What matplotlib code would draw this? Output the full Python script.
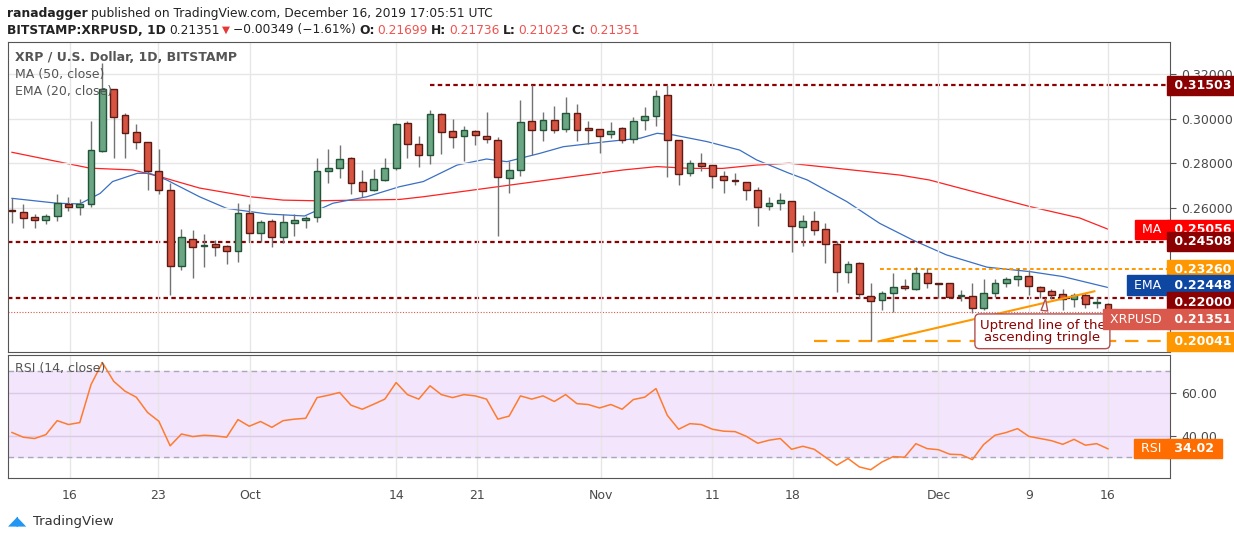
import numpy as np
import matplotlib
matplotlib.use("Agg")
from matplotlib import pyplot as plt

# daily candles, Sep -> Dec 16 2019
opens = [0.2589, 0.2585, 0.2559, 0.2546, 0.2565, 0.2620, 0.2607, 0.2619, 0.2856, 0.3132,
         0.3016, 0.2939, 0.2895, 0.2765, 0.2680, 0.2343, 0.2464, 0.2432, 0.2440, 0.2431,
         0.2410, 0.2577, 0.2488, 0.2541, 0.2473, 0.2532, 0.2546, 0.2562, 0.2766, 0.2778,
         0.2823, 0.2716, 0.2682, 0.2726, 0.2778, 0.2980, 0.2886, 0.2837, 0.3020, 0.2944,
         0.2922, 0.2944, 0.2922, 0.2904, 0.2734, 0.2769, 0.2989, 0.2948, 0.2993, 0.2953,
         0.3024, 0.2957, 0.2953, 0.2930, 0.2957, 0.2908, 0.2996, 0.3011, 0.3105, 0.2904,
         0.2756, 0.2801, 0.2792, 0.2743, 0.2726, 0.2716, 0.2680, 0.2608, 0.2622, 0.2634,
         0.2517, 0.2541, 0.2505, 0.2438, 0.2313, 0.2353, 0.2209, 0.2189, 0.2219, 0.2252,
         0.2238, 0.2309, 0.2267, 0.2264, 0.2207, 0.2207, 0.2152, 0.2222, 0.2264, 0.2282,
         0.2298, 0.2249, 0.2231, 0.2215, 0.2194, 0.2210, 0.2174, 0.2170]
highs = [0.2644, 0.2619, 0.2574, 0.2574, 0.2664, 0.2650, 0.2640, 0.2990, 0.3250, 0.3135,
         0.3024, 0.2977, 0.2896, 0.2863, 0.2711, 0.2506, 0.2503, 0.2485, 0.2458, 0.2435,
         0.2622, 0.2619, 0.2547, 0.2550, 0.2574, 0.2574, 0.2565, 0.2823, 0.2865, 0.2883,
         0.2828, 0.2771, 0.2774, 0.2823, 0.2983, 0.2992, 0.2923, 0.3039, 0.3024, 0.2998,
         0.2968, 0.2950, 0.3032, 0.2917, 0.2811, 0.3084, 0.3151, 0.3030, 0.3057, 0.3096,
         0.3066, 0.2990, 0.2953, 0.2986, 0.2962, 0.3007, 0.3054, 0.3129, 0.3151, 0.2905,
         0.2816, 0.2846, 0.2792, 0.2766, 0.2756, 0.2716, 0.2693, 0.2652, 0.2670, 0.2634,
         0.2569, 0.2589, 0.2535, 0.2455, 0.2365, 0.2359, 0.2264, 0.2231, 0.2309, 0.2282,
         0.2335, 0.2334, 0.2267, 0.2267, 0.2234, 0.2264, 0.2282, 0.2282, 0.2294, 0.2331,
         0.2323, 0.2252, 0.2237, 0.2237, 0.2219, 0.2219, 0.2204, 0.2174]
lows = [0.2535, 0.2510, 0.2510, 0.2528, 0.2544, 0.2589, 0.2570, 0.2604, 0.2853, 0.2823,
        0.2823, 0.2863, 0.2682, 0.2662, 0.2212, 0.2324, 0.2286, 0.2336, 0.2386, 0.2351,
        0.2361, 0.2450, 0.2450, 0.2425, 0.2446, 0.2477, 0.2513, 0.2540, 0.2714, 0.2737,
        0.2662, 0.2652, 0.2679, 0.2723, 0.2771, 0.2826, 0.2786, 0.2798, 0.2843, 0.2871,
        0.2813, 0.2883, 0.2890, 0.2477, 0.2670, 0.2744, 0.2838, 0.2902, 0.2938, 0.2942,
        0.2902, 0.2886, 0.2848, 0.2916, 0.2890, 0.2893, 0.2950, 0.2969, 0.2741, 0.2704,
        0.2744, 0.2768, 0.2690, 0.2670, 0.2702, 0.2637, 0.2522, 0.2592, 0.2592, 0.2405,
        0.2432, 0.2480, 0.2356, 0.2227, 0.2267, 0.2197, 0.2004, 0.2145, 0.2137, 0.2234,
        0.2234, 0.2244, 0.2197, 0.2197, 0.2186, 0.2130, 0.2145, 0.2201, 0.2249, 0.2252,
        0.2212, 0.2197, 0.2194, 0.2145, 0.2156, 0.2155, 0.2152, 0.2102]
closes = [0.2586, 0.2555, 0.2546, 0.2565, 0.2625, 0.2607, 0.2619, 0.2860, 0.3132, 0.3010,
          0.2935, 0.2895, 0.2765, 0.2680, 0.2343, 0.2470, 0.2428, 0.2434, 0.2428, 0.2410,
          0.2577, 0.2488, 0.2537, 0.2473, 0.2537, 0.2546, 0.2555, 0.2766, 0.2778, 0.2819,
          0.2711, 0.2679, 0.2729, 0.2778, 0.2975, 0.2886, 0.2837, 0.3020, 0.2939, 0.2917,
          0.2948, 0.2926, 0.2908, 0.2738, 0.2769, 0.2984, 0.2948, 0.2993, 0.2948, 0.3024,
          0.2948, 0.2948, 0.2922, 0.2944, 0.2904, 0.2989, 0.3011, 0.3100, 0.2904, 0.2752,
          0.2801, 0.2790, 0.2743, 0.2725, 0.2720, 0.2680, 0.2604, 0.2622, 0.2635, 0.2522,
          0.2541, 0.2502, 0.2438, 0.2313, 0.2349, 0.2215, 0.2183, 0.2219, 0.2249, 0.2241,
          0.2311, 0.2264, 0.2259, 0.2201, 0.2209, 0.2152, 0.2222, 0.2264, 0.2282, 0.2298,
          0.2252, 0.2231, 0.2212, 0.2194, 0.2210, 0.2171, 0.2176, 0.2135]

# MA(50) and EMA(20) read at sample candles
ma_idx = [0, 6.9, 10.7, 13.1, 16.6, 21.1, 24, 27, 34.3, 36.4, 40.8, 45.2, 49.6, 54.1, 57.1,
          60, 62.9, 65.9, 68.8, 78.6, 81.2, 90.1, 94.5, 97]
ma_val = [0.2850, 0.2779, 0.2771, 0.2741, 0.2690, 0.2651, 0.2636, 0.2633, 0.2639, 0.2651,
          0.2681, 0.2711, 0.2741, 0.2771, 0.2786, 0.2778, 0.2778, 0.2793, 0.2801, 0.2748,
          0.2726, 0.2607, 0.2556, 0.2506]
ema_idx = [0, 4, 6, 7.8, 8.9, 11.1, 12.2, 13.7, 16.6, 19, 22.6, 25.9, 28.4, 31.4, 34.3, 36.4,
           39.4, 42, 43.8, 46.7, 48.8, 52.7, 55.6, 57.1, 58.5, 61.5, 64.4, 65.9, 68.8, 70.4,
           73.9, 76.8, 79.7, 82.7, 86.3, 90.1, 93, 97]
ema_val = [0.2644, 0.2622, 0.2619, 0.2666, 0.2719, 0.2756, 0.2756, 0.2726, 0.2651, 0.2599,
           0.2574, 0.2565, 0.2622, 0.2651, 0.2696, 0.2719, 0.2793, 0.2820, 0.2808, 0.2845,
           0.2875, 0.2898, 0.2913, 0.2935, 0.2928, 0.2898, 0.2860, 0.2816, 0.2756, 0.2726,
           0.2629, 0.2532, 0.2458, 0.2391, 0.2336, 0.2316, 0.2294, 0.2245]

rsi = [41.6, 39.4, 38.8, 40.6, 47.1, 45.3, 46.2, 63.9, 74.1, 65.4,
       60.8, 58.0, 50.9, 46.8, 35.4, 40.9, 39.7, 40.3, 40.0, 39.4,
       47.6, 44.5, 46.7, 44.0, 47.1, 47.8, 48.2, 57.8, 58.9, 60.2,
       54.3, 52.4, 54.7, 57.1, 64.8, 59.2, 57.1, 63.3, 59.2, 57.8,
       59.2, 58.6, 57.1, 47.8, 49.2, 58.6, 57.1, 58.6, 56.0, 59.2, 55.0,
       54.6, 53.0, 54.6, 52.4, 56.9, 58.0, 62.0, 49.6, 43.1, 45.7,
       45.3, 43.1, 42.2, 42.0, 39.8, 36.6, 38.0, 38.8, 33.8, 35.2,
       33.8, 30.1, 26.4, 29.5, 25.6, 24.3, 27.9, 30.4, 30.1, 36.4,
       34.1, 33.6, 31.5, 31.3, 29.0, 36.0, 40.3, 41.6, 43.4, 39.8,
       38.8, 37.8, 36.1, 38.4, 35.7, 36.4, 34.02]

tick_pos = [5.1, 12.9, 21.1, 34.0, 41.2, 52.1, 62.0, 69.1, 82.0, 90.0, 97.0]
tick_lab = ['16', '23', 'Oct', '14', '21', 'Nov', '11', '18', 'Dec', '9', '16']
price_ticks = [0.32, 0.30, 0.28, 0.26]

# level labels on the price scale: (value, name, colour, where the badge sits)
levels = [(0.31503, None, '#8b0000', 0.31503), (0.25056, 'MA', '#ff0000', 0.25056),
          (0.24508, None, '#8b0000', 0.24508), (0.23260, None, '#ff9800', 0.23260),
          (0.22448, 'EMA', '#0d47a1', 0.2256), (0.22000, None, '#8b0000', 0.2180),
          (0.21351, 'XRPUSD', '#d9594c', 0.2104), (0.20041, None, '#ff9800', 0.20041)]

up_fill, up_edge = '#6ba583', '#225437'
dn_fill, dn_edge = '#d75442', '#5b1a13'
grid_c = '#e6e6e6'
txt_c = '#4a4a4a'

fig = plt.figure(figsize=(12.34, 5.4), dpi=100)
ax = fig.add_axes([0.0065, 0.348, 0.9417, 0.574])
axr = fig.add_axes([0.0065, 0.115, 0.9417, 0.228], sharex=ax)

x = np.arange(len(closes))
o, h, l, c = map(np.array, (opens, highs, lows, closes))
up = c >= o
ax.vlines(x, l, h, color='#737373', lw=1, zorder=2)
body = np.maximum(np.abs(c - o), 0.0004)
ax.bar(x[up], body[up], bottom=np.minimum(o, c)[up], width=0.6,
       color=up_fill, edgecolor=up_edge, lw=1, zorder=3)
ax.bar(x[~up], body[~up], bottom=np.minimum(o, c)[~up], width=0.6,
       color=dn_fill, edgecolor=dn_edge, lw=1, zorder=3)

ax.plot(ma_idx, ma_val, color='#ff2020', lw=0.9, zorder=1)
ax.plot(ema_idx, ema_val, color='#3a6fc4', lw=0.9, zorder=1)

xmin, xmax = -0.35, 102.5
ax.set_xlim(xmin, xmax)
ax.set_ylim(0.1956, 0.3343)

# support / resistance lines
ax.hlines(0.31503, 37, xmax, color='#8b0000', ls=(0, (2, 1.5)), lw=1.6, zorder=1)
ax.axhline(0.24508, color='#8b0000', ls=(0, (2, 1.5)), lw=1.6, zorder=1)
ax.axhline(0.22000, color='#8b0000', ls=(0, (2, 1.5)), lw=1.6, zorder=1)
ax.hlines(0.23260, 76.8, xmax, color='#ff9800', ls=(0, (2, 1.5)), lw=1.4, zorder=1)
ax.hlines(0.20041, 71.0, xmax, color='#ff9800', ls=(0, (6, 4)), lw=1.6, zorder=1)
ax.axhline(0.21351, color='#d9594c', ls=(0, (1, 1.5)), lw=0.8, zorder=1)
ax.plot([76.7, 95.8], [0.2004, 0.2228], color='#ff9800', lw=1.5, zorder=4)

ax.annotate('Uptrend line of the\nascending tringle', xy=(91.5, 0.2207), xytext=(91.2, 0.2049),
            ha='center', va='center', fontsize=9.5, color='#8b0000', linespacing=0.95,
            bbox=dict(boxstyle='round,pad=0.35', fc='white', ec='#b05050', lw=1),
            arrowprops=dict(arrowstyle='wedge,tail_width=0.5', fc='white', ec='#b05050'),
            zorder=5)

for a in (ax, axr):
    a.set_xticks(tick_pos)
    a.grid(True, axis='x', color=grid_c, lw=1)
    for s in a.spines.values():
        s.set_color('#555555')
        s.set_linewidth(0.8)
ax.set_yticks(price_ticks)
ax.set_yticklabels([f'{v:.5f}' for v in price_ticks])
ax.grid(True, axis='y', color=grid_c, lw=1)
ax.tick_params(axis='x', length=0, labelbottom=False)
ax.tick_params(axis='y', left=False, labelleft=False, right=True, labelright=True,
               length=4, color='#555555', pad=4, labelcolor=txt_c, labelsize=9)

# RSI panel
axr.axhspan(30, 70, color='#f3e5fc', zorder=0)
axr.axhline(70, color='#a8a8b8', ls=(0, (4, 3)), lw=1)
axr.axhline(30, color='#a8a8b8', ls=(0, (4, 3)), lw=1)
axr.plot(x, rsi, color='#ff7b2e', lw=1.1)
axr.set_ylim(20.5, 77.7)
axr.set_yticks([60, 40])
axr.set_yticklabels(['60.00', '40.00'])
axr.grid(True, axis='y', color='#dcc9e8', lw=1)
axr.tick_params(axis='y', left=False, labelleft=False, right=True, labelright=True,
                length=4, color='#555555', pad=4, labelcolor=txt_c, labelsize=9)
axr.set_xticklabels(tick_lab)
axr.tick_params(axis='x', length=0, pad=8, labelcolor=txt_c, labelsize=9)
axr.text(0.006, 0.86, 'RSI (14, close)', transform=axr.transAxes, fontsize=9, color='#555555')

# price-scale badges
trans = ax.get_yaxis_transform()
for val, name, col, pos in levels:
    ax.text(1.0, pos, f' {val:.5f} ', transform=trans, ha='left', va='center', fontsize=9,
            fontweight='bold', color='white', clip_on=False, zorder=6,
            bbox=dict(boxstyle='square,pad=0.25', fc=col, ec=col))
    if name:
        ax.text(0.996, pos, f' {name} ', transform=trans, ha='right', va='center', fontsize=9,
                color='white', clip_on=False, zorder=6,
                bbox=dict(boxstyle='square,pad=0.25', fc=col, ec=col))
rt = axr.get_yaxis_transform()
axr.text(1.0, rsi[-1], f' {rsi[-1]:.2f} ', transform=rt, ha='left', va='center', fontsize=9,
         fontweight='bold', color='white', clip_on=False,
         bbox=dict(boxstyle='square,pad=0.25', fc='#ff6d00', ec='#ff6d00'))
axr.text(0.996, rsi[-1], ' RSI ', transform=rt, ha='right', va='center', fontsize=9,
         color='white', clip_on=False,
         bbox=dict(boxstyle='square,pad=0.25', fc='#ff6d00', ec='#ff6d00'))

# chart legend
ax.text(0.006, 0.94, 'XRP / U.S. Dollar, 1D, BITSTAMP', transform=ax.transAxes,
        fontsize=9, fontweight='bold', color='#555555')
ax.text(0.006, 0.885, 'MA (50, close)', transform=ax.transAxes, fontsize=9, color='#555555')
ax.text(0.006, 0.83, 'EMA (20, close)', transform=ax.transAxes, fontsize=9, color='#555555')

# header, laid out piece by piece
W, H = 1234, 540
renderer = fig.canvas.get_renderer()
def line(px, py, parts, gap=3):
    for s, col, bold, size in parts:
        t = fig.text(px / W, 1 - py / H, s, va='center', fontsize=size, color=col,
                     fontweight='bold' if bold else 'normal')
        px += t.get_window_extent(renderer).width + gap

dark, red = '#222222', '#ef5350'
line(7, 13, [('ranadagger', dark, True, 8.8),
             ('published on TradingView.com, December 16, 2019 17:05:51 UTC', dark, False, 8.8)])
line(7, 30, [('BITSTAMP:XRPUSD, 1D', dark, True, 8.8), ('0.21351', dark, False, 8.8),
             ('\u25bc', '#e53935', False, 7.5), ('\u22120.00349 (\u22121.61%)', dark, False, 8.8),
             ('O:', dark, True, 8.8), ('0.21699', red, False, 8.8),
             ('H:', dark, True, 8.8), ('0.21736', red, False, 8.8),
             ('L:', dark, True, 8.8), ('0.21023', red, False, 8.8),
             ('C:', dark, True, 8.8), ('0.21351', red, False, 8.8)])

# footer logo
fig.text(8 / W, 1 - 521 / H, '\u25e2\u25e3', fontsize=9, color='#2196f3', va='center')
fig.text(33 / W, 1 - 521 / H, 'TradingView', fontsize=9.5, color='#333333', va='center')

fig.savefig('out.png', dpi=100)
